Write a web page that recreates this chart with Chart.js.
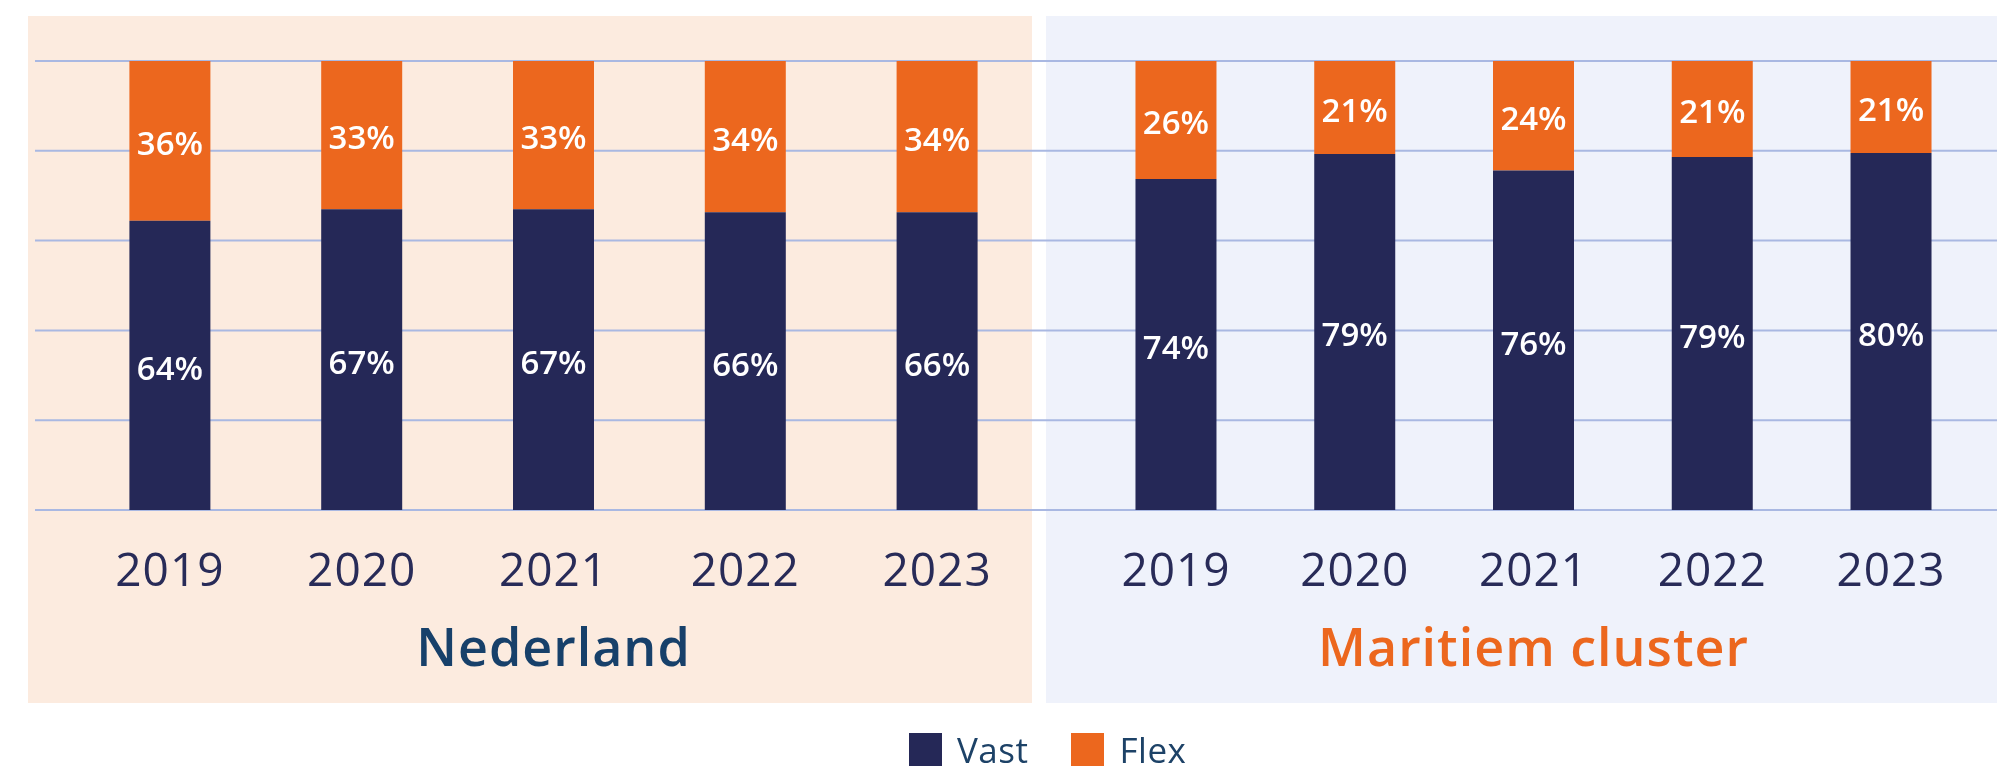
<!DOCTYPE html>
<html>
<head>
<meta charset="utf-8">
<script src="https://cdn.jsdelivr.net/npm/chart.js@4.4.1/dist/chart.umd.min.js"></script>
<style>
  html, body { margin: 0; padding: 0; background: #fff; }
  body { width: 1997px; height: 767px; position: relative; overflow: hidden; font-family: "Open Sans", sans-serif; }
  .panel { position: absolute; top: 16px; height: 687px; }
  #bg-nl { left: 28px; width: 1004px; background: #fcebdf; }
  #bg-mc { left: 1046px; width: 951px; background: #eff2fb; }
  canvas { position: absolute; left: 0; top: 0; }
  #legend { position: absolute; top: 733px; left: 909px; display: flex; align-items: center; }
  .item { display: flex; align-items: center; height: 33px; margin-right: 43px; }
  .box { width: 33px; height: 33px; margin-right: 15px; }
  .txt { font-size: 35px; line-height: 33px; color: #1d4267; letter-spacing: 0.5px; }
</style>
</head>
<body>
<div class="panel" id="bg-nl"></div>
<div class="panel" id="bg-mc"></div>
<canvas id="nl" width="1997" height="767"></canvas>
<canvas id="mc" width="1997" height="767"></canvas>
<div id="legend"></div>

<script>
// gegevens
const years = ['2019', '2020', '2021', '2022', '2023'];
const seriesNames = ['Vast', 'Flex'];
const seriesColors = ['#252857', '#ec671e'];
const nlVast = [64.4, 67.0, 67.0, 66.3, 66.3];
const nlFlex = [35.6, 33.0, 33.0, 33.7, 33.7];
const mcVast = [73.7, 79.3, 75.6, 78.6, 79.5];
const mcFlex = [26.3, 20.7, 24.4, 21.4, 20.5];
const yTicks = [0, 20, 40, 60, 80, 100];

// iets ruimere letters, zoals in het origineel
const spacing = {
  id: 'spacing',
  beforeDraw(chart) {
    chart.ctx.letterSpacing = '1px';
  }
};

// horizontale lijnen over de hele breedte
const fullGrid = {
  id: 'fullGrid',
  beforeDatasetsDraw(chart) {
    const y = chart.scales.y;
    const ctx = chart.ctx;
    ctx.save();
    ctx.strokeStyle = '#a9b8e2';
    ctx.lineWidth = 2;
    yTicks.forEach(v => {
      const py = y.getPixelForValue(v);
      ctx.beginPath();
      ctx.moveTo(35, py);
      ctx.lineTo(chart.width, py);
      ctx.stroke();
    });
    ctx.restore();
  }
};

// percentages in de balken
const valueLabels = {
  id: 'valueLabels',
  afterDatasetsDraw(chart) {
    const ctx = chart.ctx;
    ctx.save();
    ctx.letterSpacing = '0px';
    ctx.font = '600 33px "Open Sans"';
    ctx.fillStyle = '#ffffff';
    ctx.textAlign = 'center';
    ctx.textBaseline = 'middle';
    chart.data.datasets.forEach((ds, i) => {
      chart.getDatasetMeta(i).data.forEach((bar, j) => {
        const p = bar.getProps(['x', 'y', 'base'], true);
        ctx.fillText(Math.round(ds.data[j]) + '%', p.x, (p.y + p.base) / 2 + 5);
      });
    });
    ctx.restore();
  }
};

function makeChart(id, title, titleColor, vast, flex, padLeft, padRight, barPct, extraPlugins) {
  return new Chart(document.getElementById(id), {
    type: 'bar',
    data: {
      labels: years,
      datasets: [
        { label: seriesNames[0], data: vast, backgroundColor: seriesColors[0], barPercentage: barPct, categoryPercentage: 1 },
        { label: seriesNames[1], data: flex, backgroundColor: seriesColors[1], barPercentage: barPct, categoryPercentage: 1 }
      ]
    },
    options: {
      responsive: false,
      animation: false,
      events: [],
      layout: { padding: { top: 61, bottom: 84.4, left: padLeft, right: padRight } },
      plugins: { legend: { display: false }, tooltip: { enabled: false } },
      scales: {
        x: {
          stacked: true,
          grid: { display: false, drawTicks: false },
          border: { display: false },
          ticks: { color: '#282b58', font: { family: 'Open Sans', size: 46 }, padding: 35 },
          title: {
            display: true,
            text: title,
            color: titleColor,
            font: { family: 'Open Sans', size: 52, weight: '600' },
            padding: { top: -15, bottom: 0 }
          }
        },
        y: { stacked: true, display: false, min: 0, max: 100 }
      }
    },
    plugins: [spacing].concat(extraPlugins, [valueLabels])
  });
}

makeChart('nl', 'Nederland', '#17406a', nlVast, nlFlex, 74, 964, 81 / 191.8, [fullGrid]);
makeChart('mc', 'Maritiem cluster', '#ec671e', mcVast, mcFlex, 1086.6, 16.6, 81 / 178.76, []);

// legenda
const legend = document.getElementById('legend');
seriesNames.forEach((name, i) => {
  legend.innerHTML += `
    <div class="item">
      <div class="box" style="background:${seriesColors[i]}"></div>
      <span class="txt">${name}</span>
    </div>`;
});
</script>
</body>
</html>
